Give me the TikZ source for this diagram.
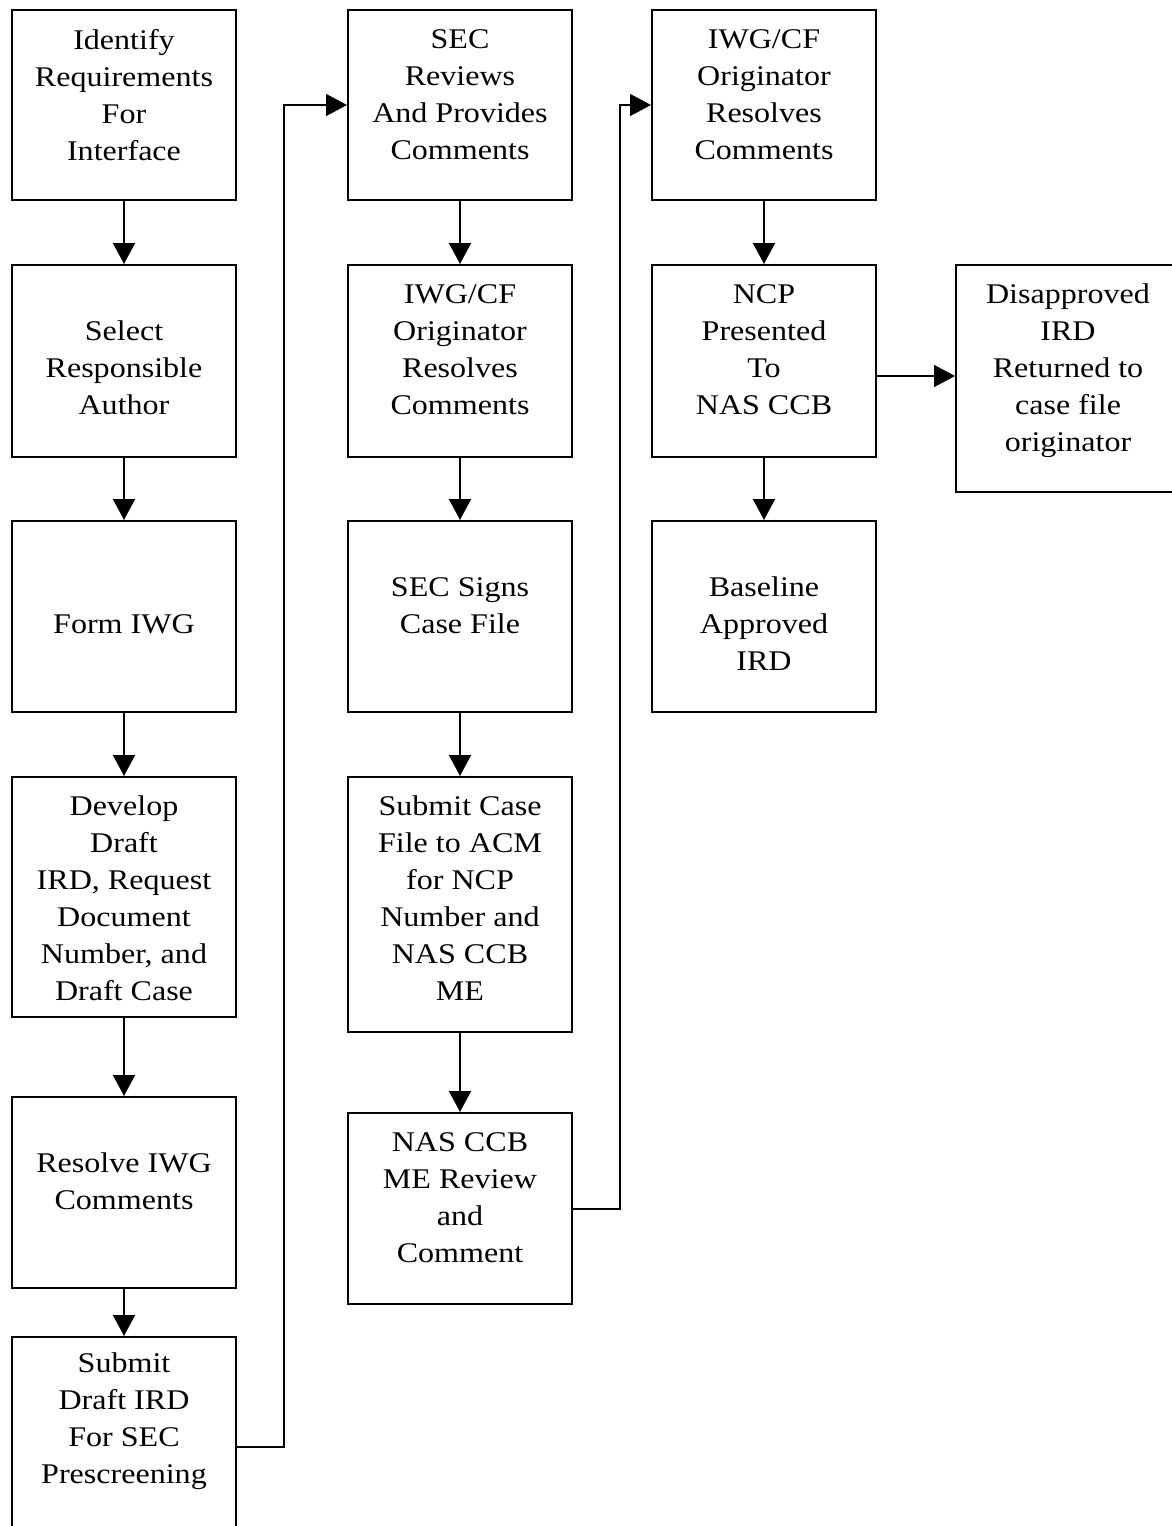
\documentclass[tikz,border=0pt]{standalone}
\usepackage{fontspec}
\setmainfont{Liberation Serif}[FakeStretch=1.125]
\usetikzlibrary{arrows.meta}
\begin{document}
\begin{tikzpicture}[x=1pt,y=-1pt,
  box/.style={draw, line width=2pt, inner sep=0pt},
  txt/.style={align=center, font=\fontsize{28.5}{37}\selectfont, inner sep=0pt},
  arr/.style={line width=1.6pt, -{Triangle[length=21pt,width=22pt]}},
  con/.style={line width=1.6pt}]
\clip (0,0) rectangle (1172,1526);
\useasboundingbox (0,0) rectangle (1172,1526);
\fill[white] (0,0) rectangle (1172,1526);
% boxes: column 1
\node[box, minimum width=224pt, minimum height=190pt] (a1) at (124,105) {};
\node[box, minimum width=224pt, minimum height=192pt] (a2) at (124,361) {};
\node[box, minimum width=224pt, minimum height=191pt] (a3) at (124,616.5) {};
\node[box, minimum width=224pt, minimum height=240pt] (a4) at (124,897) {};
\node[box, minimum width=224pt, minimum height=191pt] (a5) at (124,1192.5) {};
\node[box, minimum width=224pt, minimum height=210pt] (a6) at (124,1442) {};
% column 2
\node[box, minimum width=224pt, minimum height=190pt] (b1) at (460,105) {};
\node[box, minimum width=224pt, minimum height=192pt] (b2) at (460,361) {};
\node[box, minimum width=224pt, minimum height=191pt] (b3) at (460,616.5) {};
\node[box, minimum width=224pt, minimum height=255pt] (b4) at (460,904.5) {};
\node[box, minimum width=224pt, minimum height=191pt] (b5) at (460,1208.5) {};
% column 3
\node[box, minimum width=224pt, minimum height=190pt] (c1) at (764,105) {};
\node[box, minimum width=224pt, minimum height=192pt] (c2) at (764,361) {};
\node[box, minimum width=224pt, minimum height=191pt] (c3) at (764,616.5) {};
% column 4
\node[box, minimum width=240pt, minimum height=227pt] (d1) at (1076,378.5) {};
% texts
\node[txt] at (124,95) {Identify\\Requirements\\For\\Interface};
\node[txt] at (124,368) {Select\\Responsible\\Author};
\node[txt] at (124,624) {Form IWG};
\node[txt] at (124,898.5) {Develop\\Draft\\IRD, Request\\Document\\Number, and\\Draft Case};
\node[txt] at (124,1181.5) {Resolve IWG\\Comments};
\node[txt] at (124,1421.5) {Submit\\Draft IRD\\For SEC\\Prescreening};
\node[txt] at (460,95) {SEC\\Reviews\\And Provides\\Comments};
\node[txt] at (460,350) {IWG/CF\\Originator\\Resolves\\Comments};
\node[txt] at (460,606) {SEC Signs\\Case File};
\node[txt] at (460,898.5) {Submit Case\\File to ACM\\for NCP\\Number and\\NAS CCB\\ME};
\node[txt] at (460,1197.5) {NAS CCB\\ME Review\\and\\Comment};
\node[txt] at (764,95) {IWG/CF\\Originator\\Resolves\\Comments};
\node[txt] at (764,350) {NCP\\Presented\\To\\NAS CCB};
\node[txt] at (764,624) {Baseline\\Approved\\IRD};
\node[txt] at (1068,371) {Disapproved\\IRD\\Returned to\\case file\\originator};
% connectors
\draw[arr] (a1) -- (a2);
\draw[arr] (a2) -- (a3);
\draw[arr] (a3) -- (a4);
\draw[arr] (a4) -- (a5);
\draw[arr] (a5) -- (a6);
\draw[arr] (b1) -- (b2);
\draw[arr] (b2) -- (b3);
\draw[arr] (b3) -- (b4);
\draw[arr] (b4) -- (b5);
\draw[arr] (c1) -- (c2);
\draw[arr] (c2) -- (c3);
\draw[arr] (c2.east |- 0,376) -- (d1.west |- 0,376);
\draw[arr] (a6.east |- 0,1447) -- (284,1447) -- (284,105) -- (b1.west);
\draw[arr] (b5.east |- 0,1209) -- (620,1209) -- (620,105) -- (c1.west);
\end{tikzpicture}
\end{document}
